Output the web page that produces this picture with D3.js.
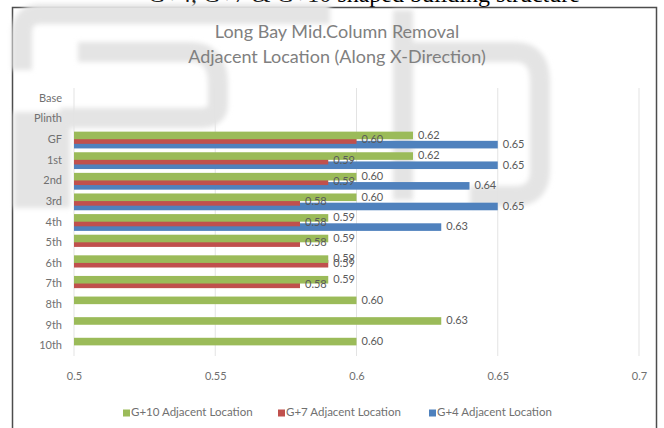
<!DOCTYPE html>
<html><head><meta charset="utf-8">
<script src="https://cdn.jsdelivr.net/npm/d3@7"></script>
<style>
  body { margin: 0; background: #fff; }
  svg { display: block; }
</style>
</head><body>
<svg id="chart" width="664" height="428"></svg>
<script>
// Floors along the vertical axis (top to bottom)
const categories = ["Base", "Plinth", "GF", "1st", "2nd", "3rd", "4th", "5th", "6th", "7th", "8th", "9th", "10th"];
// Ratios per floor for each building height (null = floor not present)
const g10Values = [null, null, 0.62, 0.62, 0.60, 0.60, 0.59, 0.59, 0.59, 0.59, 0.60, 0.63, 0.60];
const g7Values  = [null, null, 0.60, 0.59, 0.59, 0.58, 0.58, 0.58, 0.59, 0.58, null, null, null];
const g4Values  = [null, null, 0.65, 0.65, 0.64, 0.65, 0.63, null, null, null, null, null, null];
const seriesNames = ["G+10 Adjacent Location", "G+7 Adjacent Location", "G+4 Adjacent Location"];
const xTickValues = [0.5, 0.55, 0.6, 0.65, 0.7];
const titleLines = ["Long Bay Mid.Column Removal", "Adjacent Location (Along X-Direction)"];
const captionText = "G+4, G+7 & G+10 shaped building structure";

const seriesColors = ["#9bbb59", "#c0504d", "#4f81bd"];
const font = "Lato, 'Open Sans', sans-serif";

const svg = d3.select("#chart");

const defs = svg.append("defs");
defs.append("filter").attr("id", "soft")
  .attr("x", "-10%").attr("y", "-10%").attr("width", "120%").attr("height", "120%")
  .append("feGaussianBlur").attr("stdDeviation", 2.5);

// Caption line of the surrounding document, cut by the top edge
svg.append("text")
  .attr("x", 364).attr("y", 2)
  .attr("text-anchor", "middle")
  .attr("font-family", "'Liberation Serif', 'DejaVu Serif', serif")
  .attr("font-size", 24)
  .attr("fill", "#000")
  .text(captionText);

// Chart frame
svg.append("rect")
  .attr("x", 12.5).attr("y", 7.5)
  .attr("width", 644).attr("height", 440)
  .attr("fill", "#fff")
  .attr("stroke", "#4d4d4d").attr("stroke-width", 1.5);

// Faint stamp printed behind the chart
const stamp = svg.append("g")
  .attr("filter", "url(#soft)")
  .attr("fill", "none")
  .attr("stroke", "#e4e4e4")
  .attr("stroke-width", 20);
stamp.append("path")
  .attr("d", "M330,14 H40 Q22,14 22,34 V70");
stamp.append("path")
  .attr("d", "M78,52 H190 Q218,52 218,84 V104 Q218,118 200,118 H60");
stamp.append("path")
  .attr("d", "M403,10 V200 M403,52 H515 Q540,52 540,82 V170 Q540,196 515,196 H470");
stamp.append("rect")
  .attr("x", 14).attr("y", 112).attr("width", 56).attr("height", 96)
  .attr("fill", "#e4e4e4").attr("stroke", "none");

// Title
svg.append("g").selectAll("text")
  .data(titleLines).join("text")
  .attr("x", 337).attr("y", (d, i) => 38 + i * 25)
  .attr("text-anchor", "middle")
  .attr("font-family", font).attr("font-size", 18)
  .attr("fill", "#808080")
  .text(d => d);

const x = d3.scaleLinear().domain([0.5, 0.7]).range([74, 639]);
const y = d3.scaleBand().domain(categories).range([88, 356]);

// Vertical gridlines
svg.append("g").selectAll("line")
  .data(xTickValues).join("line")
  .attr("x1", d => x(d)).attr("x2", d => x(d))
  .attr("y1", 88).attr("y2", 356)
  .attr("stroke", "#e3e3e3").attr("stroke-width", 1);

// Bars: each series overlaps the next, first series drawn on top
const series = [g10Values, g7Values, g4Values];
const barThick = 7.6, barStep = 4.6, clusterPad = 2.4;
const barY = (cat, si) => y(cat) + clusterPad + si * barStep;

const barsG = svg.append("g");
[2, 1, 0].forEach(si => {
  barsG.append("g").selectAll("rect")
    .data(categories.map((c, i) => ({ c, v: series[si][i] })).filter(d => d.v !== null))
    .join("rect")
    .attr("x", x(0.5))
    .attr("y", d => barY(d.c, si))
    .attr("width", d => x(d.v) - x(0.5))
    .attr("height", barThick)
    .attr("fill", seriesColors[si]);
});

// Value labels at the end of each bar
const fmt = d3.format(".2f");
const labelsG = svg.append("g");
[2, 1, 0].forEach(si => {
  labelsG.append("g").selectAll("text")
    .data(categories.map((c, i) => ({ c, v: series[si][i] })).filter(d => d.v !== null))
    .join("text")
    .attr("x", d => x(d.v) + 5)
    .attr("y", d => barY(d.c, si) + barThick / 2 + 0.5)
    .attr("dominant-baseline", "middle")
    .attr("font-family", font).attr("font-size", 11)
    .attr("fill", "#5a5a5a")
    .text(d => fmt(d.v));
});

// Category axis
const yAxis = svg.append("g")
  .attr("transform", `translate(${x(0.5)},0)`)
  .call(d3.axisLeft(y).tickSize(0).tickPadding(12));
yAxis.select(".domain").remove();
yAxis.selectAll("text")
  .attr("font-family", font).attr("font-size", 11)
  .attr("fill", "#707070");

// Value axis
const xAxis = svg.append("g")
  .attr("transform", "translate(0,372)")
  .call(d3.axisBottom(x).tickValues(xTickValues).tickSize(0).tickPadding(0).tickFormat(d => String(d)));
xAxis.select(".domain").remove();
xAxis.selectAll("text")
  .attr("font-family", font).attr("font-size", 11)
  .attr("fill", "#707070");

// Legend
const legendX = [123, 278, 429];
const legend = svg.append("g").selectAll("g")
  .data(seriesNames).join("g")
  .attr("transform", (d, i) => `translate(${legendX[i]},413)`);
legend.append("rect")
  .attr("x", 0).attr("y", -3.5).attr("width", 7).attr("height", 7)
  .attr("fill", (d, i) => seriesColors[i]);
legend.append("text")
  .attr("x", 8).attr("y", 0)
  .attr("dominant-baseline", "middle")
  .attr("font-family", font).attr("font-size", 11.5)
  .attr("fill", "#707070")
  .text(d => d);
</script>
</body></html>
